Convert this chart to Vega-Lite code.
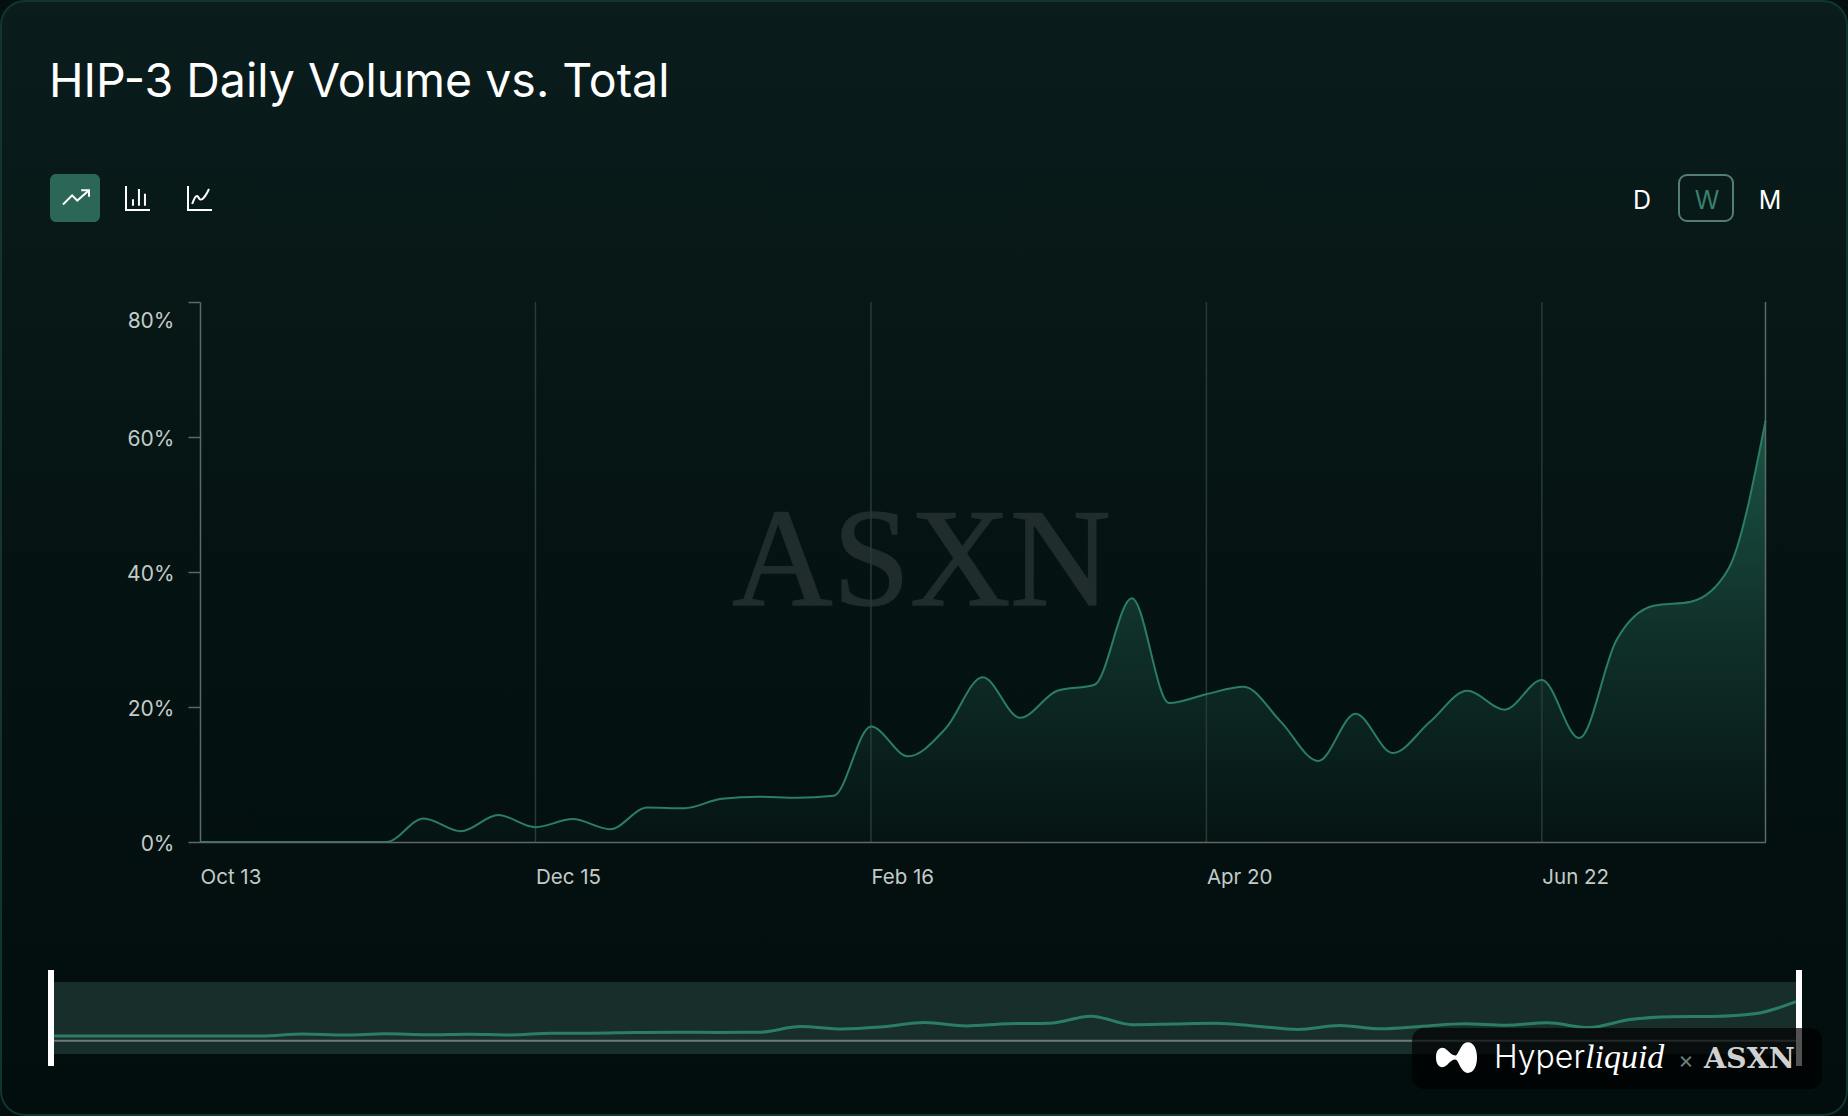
{
  "$schema": "https://vega.github.io/schema/vega-lite/v6.json",
  "width": 1848,
  "height": 1116,
  "padding": 0,
  "autosize": {"type": "fit", "contains": "padding"},
  "background": "#03100f",
  "config": {"view": {"stroke": null}},
  "datasets": {
    "weekly": [
      {"date": "2025-10-13", "share": 0},
      {"date": "2025-10-20", "share": 0},
      {"date": "2025-10-27", "share": 0},
      {"date": "2025-11-03", "share": 0},
      {"date": "2025-11-10", "share": 0},
      {"date": "2025-11-17", "share": 0},
      {"date": "2025-11-24", "share": 3.5},
      {"date": "2025-12-01", "share": 1.6},
      {"date": "2025-12-08", "share": 4.0},
      {"date": "2025-12-15", "share": 2.2},
      {"date": "2025-12-22", "share": 3.4},
      {"date": "2025-12-29", "share": 1.9},
      {"date": "2026-01-05", "share": 5.1},
      {"date": "2026-01-12", "share": 5.0},
      {"date": "2026-01-19", "share": 6.4},
      {"date": "2026-01-26", "share": 6.7},
      {"date": "2026-02-02", "share": 6.55},
      {"date": "2026-02-09", "share": 6.85},
      {"date": "2026-02-16", "share": 17.1},
      {"date": "2026-02-23", "share": 12.7},
      {"date": "2026-03-02", "share": 16.8},
      {"date": "2026-03-09", "share": 24.4},
      {"date": "2026-03-16", "share": 18.4},
      {"date": "2026-03-23", "share": 22.4},
      {"date": "2026-03-30", "share": 23.3},
      {"date": "2026-04-06", "share": 36.1},
      {"date": "2026-04-13", "share": 20.6},
      {"date": "2026-04-20", "share": 21.9},
      {"date": "2026-04-27", "share": 23.0},
      {"date": "2026-05-04", "share": 17.8},
      {"date": "2026-05-11", "share": 12.0},
      {"date": "2026-05-18", "share": 19.0},
      {"date": "2026-05-25", "share": 13.2},
      {"date": "2026-06-01", "share": 17.8},
      {"date": "2026-06-08", "share": 22.4},
      {"date": "2026-06-15", "share": 19.6},
      {"date": "2026-06-22", "share": 24.0},
      {"date": "2026-06-29", "share": 15.4},
      {"date": "2026-07-06", "share": 29.9},
      {"date": "2026-07-13", "share": 35.0},
      {"date": "2026-07-20", "share": 35.6},
      {"date": "2026-07-27", "share": 40.4},
      {"date": "2026-08-03", "share": 62.4}
    ],
    "gridDates": [
      {"date": "2025-12-15"},
      {"date": "2026-02-16"},
      {"date": "2026-04-20"},
      {"date": "2026-06-22"}
    ],
    "window": [{"start": "2025-10-13", "end": "2026-08-03"}],
    "firstDate": [{"date": "2025-10-13"}],
    "lastDate": [{"date": "2026-08-03"}]
  },
  "layer": [
    {
      "data": {"values": [{"part": "card"}]},
      "mark": {
        "type": "rect", "x": 1, "x2": 1847, "y": 1, "y2": 1115, "cornerRadius": 24,
        "stroke": "#123530", "strokeWidth": 2,
        "fill": {
          "gradient": "linear", "x1": 0, "y1": 0, "x2": 0, "y2": 1,
          "stops": [
            {"offset": 0, "color": "#0a1c1c"},
            {"offset": 0.25, "color": "#071817"},
            {"offset": 0.6, "color": "#041211"},
            {"offset": 1, "color": "#020e0d"}
          ]
        }
      }
    },
    {
      "data": {"values": [{"label": "HIP-3 Daily Volume vs. Total"}]},
      "mark": {"type": "text", "x": 49, "y": 97, "align": "left", "baseline": "alphabetic", "font": "Inter", "fontSize": 46.5, "fontWeight": 400, "color": "#ffffff"},
      "encoding": {"text": {"field": "label"}}
    },
    {
      "data": {"values": [{"part": "active"}]},
      "mark": {"type": "rect", "x": 50, "x2": 100, "y": 174, "y2": 222, "cornerRadius": 6, "color": "#2b6656"}
    },
    {
      "data": {"values": [{"part": "line icon"}]},
      "mark": {"type": "point", "x": 76, "y": 198, "size": 676, "filled": false, "opacity": 1, "stroke": "#ffffff", "strokeWidth": 2, "shape": "M-1,0.5L-0.3,-0.2L0.1,0.2L1,-0.6M0.4,-0.6L1,-0.6L1,-0.1"}
    },
    {
      "data": {"values": [{"part": "bar icon"}]},
      "mark": {"type": "point", "x": 138, "y": 198, "size": 576, "filled": false, "opacity": 1, "stroke": "#ffffff", "strokeWidth": 2, "shape": "M-1,-1V1H1M-0.42,0.1V0.65M0.08,-0.75V0.65M0.58,-0.35V0.65"}
    },
    {
      "data": {"values": [{"part": "area icon"}]},
      "mark": {"type": "point", "x": 200, "y": 198, "size": 576, "filled": false, "opacity": 1, "stroke": "#ffffff", "strokeWidth": 2, "shape": "M-1,-1V1H1M-0.65,0.5C-0.4,-0.2 -0.25,-0.3 -0.1,0C0.05,0.3 0.35,0.1 0.75,-0.75"}
    },
    {
      "data": {"values": [{"label": "D"}]},
      "mark": {"type": "text", "x": 1642, "y": 201, "align": "center", "baseline": "middle", "font": "Inter", "fontSize": 25, "color": "#ffffff"},
      "encoding": {"text": {"field": "label"}}
    },
    {
      "data": {"values": [{"part": "selected"}]},
      "mark": {"type": "rect", "x": 1679, "x2": 1733, "y": 175, "y2": 221, "cornerRadius": 8, "fillOpacity": 0, "stroke": "#527f73", "strokeWidth": 2}
    },
    {
      "data": {"values": [{"label": "W"}]},
      "mark": {"type": "text", "x": 1707, "y": 201, "align": "center", "baseline": "middle", "font": "Inter", "fontSize": 25, "color": "#3b8069"},
      "encoding": {"text": {"field": "label"}}
    },
    {
      "data": {"values": [{"label": "M"}]},
      "mark": {"type": "text", "x": 1770, "y": 201, "align": "center", "baseline": "middle", "font": "Inter", "fontSize": 25, "color": "#ffffff"},
      "encoding": {"text": {"field": "label"}}
    },
    {
      "data": {"values": [{"label": "ASXN"}]},
      "mark": {"type": "text", "x": 921.5, "y": 605, "align": "center", "baseline": "alphabetic", "font": "Liberation Serif", "fontSize": 139, "color": "#202d2c", "stroke": "#202d2c", "strokeWidth": 1.5},
      "encoding": {"text": {"field": "label"}}
    },
    {
      "layer": [
        {
          "data": {"name": "weekly"},
          "mark": {
            "type": "area", "interpolate": "monotone",
            "color": {
              "gradient": "linear", "x1": 0, "y1": 0, "x2": 0, "y2": 1,
              "stops": [
                {"offset": 0, "color": "#1b5443"},
                {"offset": 0.5, "color": "#10302a"},
                {"offset": 0.85, "color": "#081c1a"},
                {"offset": 1, "color": "#051412"}
              ]
            }
          },
          "encoding": {
            "x": {
              "field": "date", "type": "temporal",
              "scale": {"type": "utc", "nice": false, "range": [200, 1765.5]},
              "axis": {
                "orient": "bottom", "offset": -274, "zindex": 1, "title": null, "grid": false, "ticks": false,
                "values": [
                  {"year": 2025, "month": "oct", "date": 13, "utc": true},
                  {"year": 2025, "month": "dec", "date": 15, "utc": true},
                  {"year": 2026, "month": "feb", "date": 16, "utc": true},
                  {"year": 2026, "month": "apr", "date": 20, "utc": true},
                  {"year": 2026, "month": "jun", "date": 22, "utc": true}
                ],
                "format": "%b %-d", "labelAlign": "left", "labelFlush": false, "labelOverlap": false, "labelPadding": 25,
                "labelFont": "Inter", "labelFontSize": 20.5, "labelColor": "#c4cbc9",
                "domainColor": "#5b6a66", "domainWidth": 1.5
              }
            },
            "y": {
              "field": "share", "type": "quantitative", "stack": null,
              "scale": {"domain": [0, 80], "range": [842, 302]},
              "axis": {
                "orient": "left", "offset": -200, "zindex": 1, "title": null, "grid": false,
                "values": [0, 20, 40, 60, 80],
                "labelExpr": "datum.value + '%'", "labelFlush": false, "labelOverlap": false, "labelPadding": 14,
                "labelFont": "Inter", "labelFontSize": 21, "labelColor": "#c4cbc9",
                "labelOffset": {"condition": {"test": "datum.value === 80", "value": 19.5}, "value": 2},
                "tickSize": 12, "tickColor": "#5b6a66", "tickWidth": 1.5,
                "domainColor": "#5b6a66", "domainWidth": 1.5
              }
            },
            "y2": {"datum": 0}
          }
        },
        {
          "data": {"name": "gridDates"},
          "mark": {"type": "rule", "color": "#293a37", "strokeWidth": 1.5},
          "encoding": {
            "x": {"field": "date", "type": "temporal"},
            "y": {"datum": 0, "type": "quantitative"},
            "y2": {"datum": 80}
          }
        },
        {
          "data": {"name": "lastDate"},
          "mark": {"type": "rule", "color": "#5b6a66", "strokeWidth": 1.5},
          "encoding": {
            "x": {"field": "date", "type": "temporal"},
            "y": {"datum": 0, "type": "quantitative"},
            "y2": {"datum": 80}
          }
        },
        {
          "data": {"name": "weekly"},
          "mark": {"type": "line", "interpolate": "monotone", "color": "#2b7d66", "strokeWidth": 2},
          "encoding": {
            "x": {"field": "date", "type": "temporal"},
            "y": {"field": "share", "type": "quantitative"}
          }
        }
      ]
    },
    {
      "layer": [
        {
          "data": {"name": "window"},
          "mark": {"type": "rect", "y": 982, "y2": 1054, "color": "#182e2a"},
          "encoding": {
            "x": {"field": "start", "type": "temporal", "scale": {"type": "utc", "nice": false, "range": [54, 1796]}, "axis": null},
            "x2": {"field": "end"}
          }
        },
        {
          "data": {"name": "window"},
          "mark": {"type": "rule", "y": 1040.7, "color": "#6f7a77", "strokeWidth": 2},
          "encoding": {
            "x": {"field": "start", "type": "temporal"},
            "x2": {"field": "end"}
          }
        },
        {
          "data": {"name": "weekly"},
          "mark": {"type": "line", "interpolate": "monotone", "color": "#2b7d66", "strokeWidth": 3},
          "encoding": {
            "x": {"field": "date", "type": "temporal"},
            "y": {"field": "share", "type": "quantitative", "scale": {"domain": [0, 80], "range": [1036, 992]}, "axis": null}
          }
        },
        {
          "data": {"name": "firstDate"},
          "mark": {"type": "rule", "y": 970, "y2": 1066, "xOffset": -3, "color": "#ffffff", "strokeWidth": 6},
          "encoding": {"x": {"field": "date", "type": "temporal"}}
        },
        {
          "data": {"name": "lastDate"},
          "mark": {"type": "rule", "y": 970, "y2": 1066, "xOffset": 3, "color": "#ffffff", "strokeWidth": 6},
          "encoding": {"x": {"field": "date", "type": "temporal"}}
        }
      ]
    },
    {
      "data": {"values": [{"part": "badge"}]},
      "mark": {"type": "rect", "x": 1412, "x2": 1822, "y": 1028, "y2": 1089, "cornerRadius": 12, "color": "#000000", "opacity": 0.68}
    },
    {
      "data": {"values": [{"part": "logo"}]},
      "mark": {"type": "point", "x": 1456.5, "y": 1057.5, "size": 1681, "filled": true, "opacity": 1, "fill": "#ffffff", "strokeWidth": 0, "shape": "M-1,0C-1,-0.45 -0.7,-0.6 -0.45,-0.35C-0.3,-0.2 -0.2,-0.1 -0.05,-0.1C0.1,-0.1 0.2,-0.75 0.55,-0.75C0.85,-0.75 1,-0.4 1,0C1,0.4 0.85,0.75 0.55,0.75C0.2,0.75 0.1,0.1 -0.05,0.1C-0.2,0.1 -0.3,0.2 -0.45,0.35C-0.7,0.6 -1,0.45 -1,0Z"}
    },
    {
      "data": {"values": [{"label": "Hyper"}]},
      "mark": {"type": "text", "x": 1494, "y": 1068, "align": "left", "baseline": "alphabetic", "font": "Inter", "fontSize": 32, "fontWeight": 300, "color": "#ffffff"},
      "encoding": {"text": {"field": "label"}}
    },
    {
      "data": {"values": [{"label": "liquid"}]},
      "mark": {"type": "text", "x": 1585, "y": 1068, "align": "left", "baseline": "alphabetic", "font": "Liberation Serif", "fontStyle": "italic", "fontSize": 34, "color": "#ffffff"},
      "encoding": {"text": {"field": "label"}}
    },
    {
      "data": {"values": [{"label": "×"}]},
      "mark": {"type": "text", "x": 1686, "y": 1061, "align": "center", "baseline": "middle", "font": "Inter", "fontSize": 24, "color": "#6b7f79"},
      "encoding": {"text": {"field": "label"}}
    },
    {
      "data": {"values": [{"label": "ASXN"}]},
      "mark": {"type": "text", "x": 1704, "y": 1068, "align": "left", "baseline": "alphabetic", "font": "DejaVu Serif", "fontWeight": "bold", "fontSize": 28.5, "color": "#d0d0d0"},
      "encoding": {"text": {"field": "label"}}
    }
  ],
  "resolve": {"scale": {"x": "independent", "y": "independent"}}
}
